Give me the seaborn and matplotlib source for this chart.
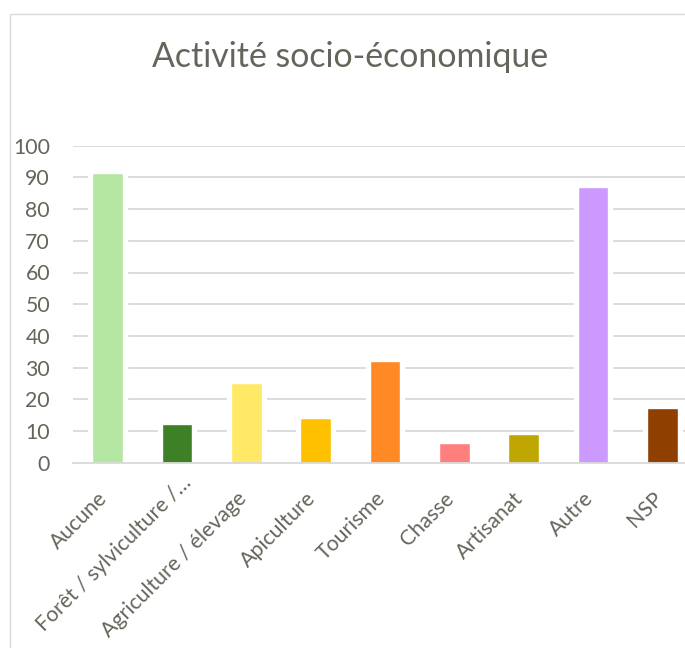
import matplotlib
matplotlib.use("Agg")
import matplotlib.pyplot as plt
from matplotlib.patches import Rectangle
from matplotlib.transforms import ScaledTranslation
import numpy as np
import pandas as pd
import seaborn as sns

categories = ["Aucune", "Forêt / sylviculture /…", "Agriculture / élevage", "Apiculture",
              "Tourisme", "Chasse", "Artisanat", "Autre", "NSP"]
values = [91.3, 12.1, 25.2, 14.1, 32.2, 6.1, 9.1, 87.1, 17.2]
colors = ["#B5E6A2", "#3E8025", "#FFE966", "#FFC000", "#FF8A25",
          "#FF7F7F", "#BFA600", "#CC99FF", "#8F3F00"]
title = "Activité socio-économique"
yticks = [0, 10, 20, 30, 40, 50, 60, 70, 80, 90, 100]

TEXT = "#65655B"
GRID = "#D9D9D9"
FONT = "Lato"
LABEL_SIZE = 15.3

sns.set_theme(style="white")
plt.rcParams["font.family"] = [FONT, "DejaVu Sans"]

df = pd.DataFrame({"cat": categories, "val": values})

W, H = 685, 648
fig = plt.figure(figsize=(W / 100, H / 100), dpi=100)
fig.patch.set_facecolor("white")

# chart frame
fig.patches.append(Rectangle((10 / W, -0.05), 1.2, (H - 14) / H + 0.05,
                             transform=fig.transFigure, fill=False,
                             edgecolor=GRID, linewidth=1.0, zorder=0))

left, right = 73 / W, 697 / W
bottom, top = (H - 462.7) / H, (H - 145.7) / H
ax = fig.add_axes([left, bottom, right - left, top - bottom])
ax.set_facecolor("none")

# horizontal grid
for y in yticks[1:]:
    ax.axhline(y, color=GRID, linewidth=1.3, zorder=0)

# white halo behind bars to break the grid lines
sns.barplot(data=df, x="cat", y="val", color="white", width=0.56,
            saturation=1, ax=ax, zorder=1)
sns.barplot(data=df, x="cat", y="val", hue="cat", palette=colors, width=0.445,
            saturation=1, legend=False, ax=ax, zorder=2)

ax.set_xlim(-0.5, len(categories) - 0.5)
ax.set_ylim(0, 100)
ax.set_yticks(yticks)
ax.set_yticklabels([str(v) for v in yticks], fontsize=LABEL_SIZE, color=TEXT)
ax.tick_params(axis="y", length=0, pad=16.5)
ax.set_xlabel("")
ax.set_ylabel("")

# rotated category labels, anchored at the end of their baseline
ax.set_xticks(range(len(categories)))
ax.set_xticklabels(categories, rotation=45, ha="right", va="baseline",
                   rotation_mode="anchor", fontsize=LABEL_SIZE, color=TEXT)
ax.tick_params(axis="x", which="major", length=0, pad=26.6)
for lbl in ax.get_xticklabels():
    # the truncated label sits further along its own baseline
    dx, dy = (15, 16) if lbl.get_text().endswith("…") else (1, 0)
    lbl.set_transform(lbl.get_transform()
                      + ScaledTranslation(dx / 100, dy / 100, fig.dpi_scale_trans))
ax.set_xticks(np.arange(-0.5, len(categories), 1.0), minor=True)
ax.tick_params(axis="x", which="minor", length=6, width=1.2, color=GRID, direction="out")

for s in ["left", "right", "top"]:
    ax.spines[s].set_visible(False)
ax.spines["bottom"].set_color(GRID)
ax.spines["bottom"].set_linewidth(1.3)
ax.spines["bottom"].set_zorder(3)

fig.text(350 / W, (H - 67) / H, title, ha="center", va="baseline",
         fontsize=24.4, color=TEXT)

fig.savefig("out.png", dpi=100, facecolor="white")
